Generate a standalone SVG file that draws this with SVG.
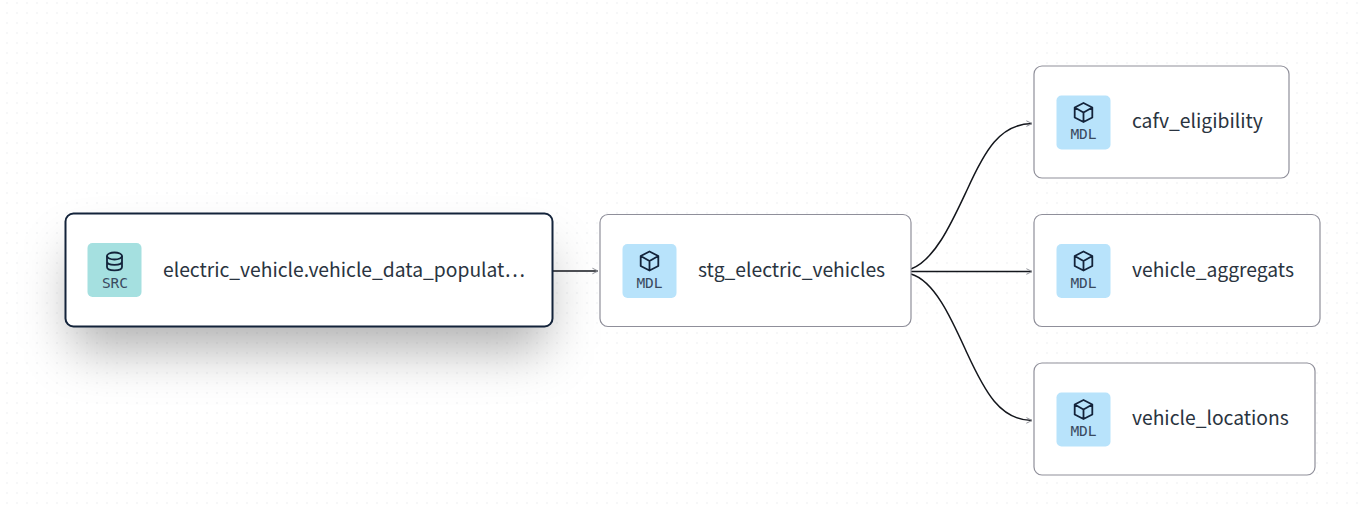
<svg xmlns="http://www.w3.org/2000/svg" width="1359" height="510" viewBox="0 0 1359 510">
<defs>
<pattern id="dots" x="6" y="2" width="10" height="10" patternUnits="userSpaceOnUse"><circle cx="1" cy="1" r="0.7" fill="#e6e8ea"/></pattern>
<filter id="shadow" x="-30%" y="-80%" width="160%" height="300%"><feGaussianBlur stdDeviation="25"/></filter>
<marker id="arrow" viewBox="0 0 10 10" refX="9" refY="5" markerWidth="8" markerHeight="8" markerUnits="userSpaceOnUse" orient="auto"><path d="M2 1.500 L9 5 L2 8.500" fill="none" stroke="#8b8d94" stroke-width="1.200"/></marker>
<g id="cube"><path d="M0 -9.500 L8.800 -5 V5 L0 9.500 L-8.800 5 V-5 Z M-8.800 -5 L0 0 L8.800 -5 M0 0 V9.500" fill="none" stroke="#13233a" stroke-width="1.800" stroke-linejoin="round"/></g>
</defs>
<style>
.node{fill:#fff;stroke:#8f8f9a;stroke-width:1.200}
.src{fill:#fff;stroke:#13233a;stroke-width:2}
.label{font-family:"Noto Sans CJK SC","Noto Sans",sans-serif;font-size:19.300px;fill:#2a3440}
.tag{font-family:"DejaVu Sans Mono","Liberation Mono",monospace;font-size:14.500px;fill:#3a4a60;text-anchor:middle}
.edge{fill:none;stroke:#13161c;stroke-width:1.500;marker-end:url(#arrow)}
</style>
<rect width="1359" height="510" fill="#fff"/>
<rect width="1359" height="510" fill="url(#dots)"/>
<rect x="72" y="250" width="474" height="100" rx="10" fill="#000" fill-opacity="0.3" filter="url(#shadow)"/>
<g id="connectors">
<path class="edge" d="M911 269 C935 260 952 222 967 190 C985 150 1000 124 1032 123.500"/>
<path class="edge" d="M911 271.500 H1032"/>
<path class="edge" d="M911 274 C935 281 952 320 967 353 C985 392 1000 420 1032 420.500"/>
<path class="edge" d="M553 271 H598"/>
</g>
<g id="src-node">
<rect class="src" x="65.500" y="213.500" width="487" height="113" rx="8"/>
<rect x="87.500" y="243" width="54" height="54" rx="5" fill="#a5e0e0"/>
<g fill="none" stroke="#13233a" stroke-width="1.800"><ellipse cx="114.500" cy="256" rx="7.500" ry="3.500"/><path d="M107 256 V267 C107 271.500 122 271.500 122 267 V256 M107 261.500 C107 266 122 266 122 261.500"/></g>
<text class="tag" x="115" y="288">SRC</text>
<text class="label" x="163" y="277">electric_vehicle.vehicle_data_populat…</text>
</g>
<g id="stg-node">
<rect class="node" x="600" y="214.500" width="311" height="112" rx="8"/>
<rect x="622.500" y="244" width="54" height="54" rx="5" fill="#b8e3fb"/>
<use href="#cube" x="649.500" y="261"/>
<text class="tag" x="649.500" y="288">MDL</text>
<text class="label" x="698" y="277">stg_electric_vehicles</text>
</g>
<g id="cafv-node">
<rect class="node" x="1034" y="66" width="255" height="112" rx="8"/>
<rect x="1056.500" y="95.500" width="54" height="54" rx="5" fill="#b8e3fb"/>
<use href="#cube" x="1083.500" y="112.500"/>
<text class="tag" x="1083.500" y="139">MDL</text>
<text class="label" x="1132" y="128">cafv_eligibility</text>
</g>
<g id="aggregats-node">
<rect class="node" x="1034" y="214.500" width="286" height="112" rx="8"/>
<rect x="1056.500" y="244" width="54" height="54" rx="5" fill="#b8e3fb"/>
<use href="#cube" x="1083.500" y="261"/>
<text class="tag" x="1083.500" y="288">MDL</text>
<text class="label" x="1132" y="277">vehicle_aggregats</text>
</g>
<g id="locations-node">
<rect class="node" x="1034" y="363" width="281" height="112" rx="8"/>
<rect x="1056.500" y="392.500" width="54" height="54" rx="5" fill="#b8e3fb"/>
<use href="#cube" x="1083.500" y="409.500"/>
<text class="tag" x="1083.500" y="436">MDL</text>
<text class="label" x="1132" y="425">vehicle_locations</text>
</g>
</svg>
